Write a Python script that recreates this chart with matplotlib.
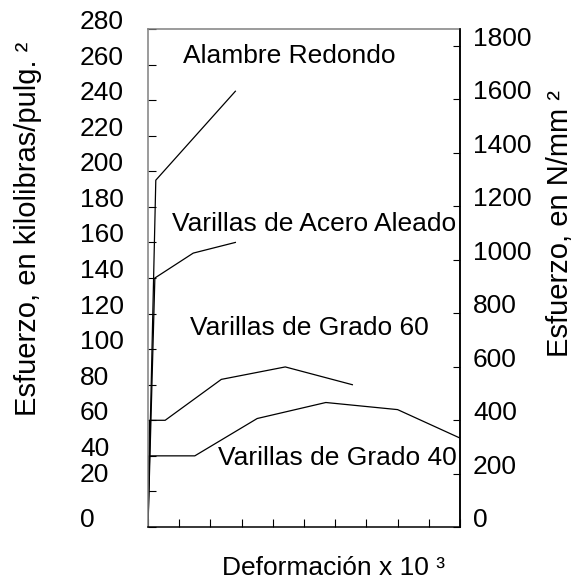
import matplotlib
matplotlib.use("Agg")
import matplotlib.pyplot as plt

plt.rcParams['font.family'] = ['Liberation Sans', 'DejaVu Sans']

# deformation in tick units (x 10^-3 scale, no labels) / stress in ksi
redondo_x = [0, 0.25, 2.8]
redondo_y = [0, 195, 245]
aleado_x = [0, 0.22, 1.45, 2.8]
aleado_y = [0, 140, 154, 160]
grado60_x = [0, 0.05, 0.55, 2.35, 4.4, 6.55]
grado60_y = [0, 60, 60, 83, 90, 80]
grado40_x = [0, 0.03, 1.5, 3.5, 5.7, 8.0, 10]
grado40_y = [0, 40, 40, 61, 70, 66, 50]

ksi_ticks = list(range(0, 281, 20))
ksi_label_y = [0, 25.5, 40, 60, 80, 100, 120, 140, 160, 180, 200, 220, 240, 260, 280]
mpa_ticks = list(range(0, 1801, 200))
mpa_per_ksi = 6.65

fs = 19

fig = plt.figure(figsize=(5.74, 5.82), dpi=100)
ax = fig.add_axes([148/574, 55/582, 312/574, 498/582])

for xs, ys in [(redondo_x, redondo_y), (aleado_x, aleado_y),
               (grado60_x, grado60_y), (grado40_x, grado40_y)]:
    ax.plot(xs, ys, color='black', lw=0.9)

ax.set_xlim(0, 10)
ax.set_ylim(0, 280)
ax.set_xticks(range(11))
ax.set_xticklabels([])
ax.set_yticks(ksi_ticks)
ax.set_yticklabels([])
ax.tick_params(axis='both', direction='in', length=5.5, width=0.8, color='black')

for s in ['left', 'top']:
    ax.spines[s].set_color('#808080')
for s in ['right', 'bottom']:
    ax.spines[s].set_color('black')
for s in ax.spines.values():
    s.set_linewidth(1.1)

# left tick labels (placed by hand as in the original)
for val, ypos in zip(ksi_ticks, ksi_label_y):
    ax.text(-0.218, ypos, str(val), transform=ax.get_yaxis_transform(),
            ha='left', va='baseline', fontsize=fs)

ax2 = ax.twinx()
ax2.set_ylim(0, 280 * mpa_per_ksi)
ax2.set_yticks(mpa_ticks)
ax2.set_yticklabels([str(v) for v in mpa_ticks], va='baseline', fontsize=fs)
ax2.tick_params(axis='y', direction='in', length=5, width=0.8, pad=9.4)
ax2.spines['right'].set_color('black')
ax2.spines['right'].set_linewidth(1.1)
for s in ['left', 'top', 'bottom']:
    ax2.spines[s].set_visible(False)

ax.text(1.12, 261, 'Alambre Redondo', fontsize=fs, va='baseline')
ax.text(0.77, 166.4, 'Varillas de Acero Aleado', fontsize=fs, va='baseline')
ax.text(1.35, 108, 'Varillas de Grado 60', fontsize=fs, va='baseline')
ax.text(2.24, 34.9, 'Varillas de Grado 40', fontsize=fs, va='baseline')

fig.text(28/574, 1 - 229/582, 'Esfuerzo, en kilolibras/pulg. ²', rotation=90,
         ha='center', va='center', fontsize=21)
fig.text(560/574, 1 - 224/582, 'Esfuerzo, en N/mm ²', rotation=90,
         ha='center', va='center', fontsize=21)
fig.text(333/574, 1 - 575/582, 'Deformación x 10 ³', ha='center', va='baseline',
         fontsize=fs)

plt.savefig('out.png', dpi=100)
